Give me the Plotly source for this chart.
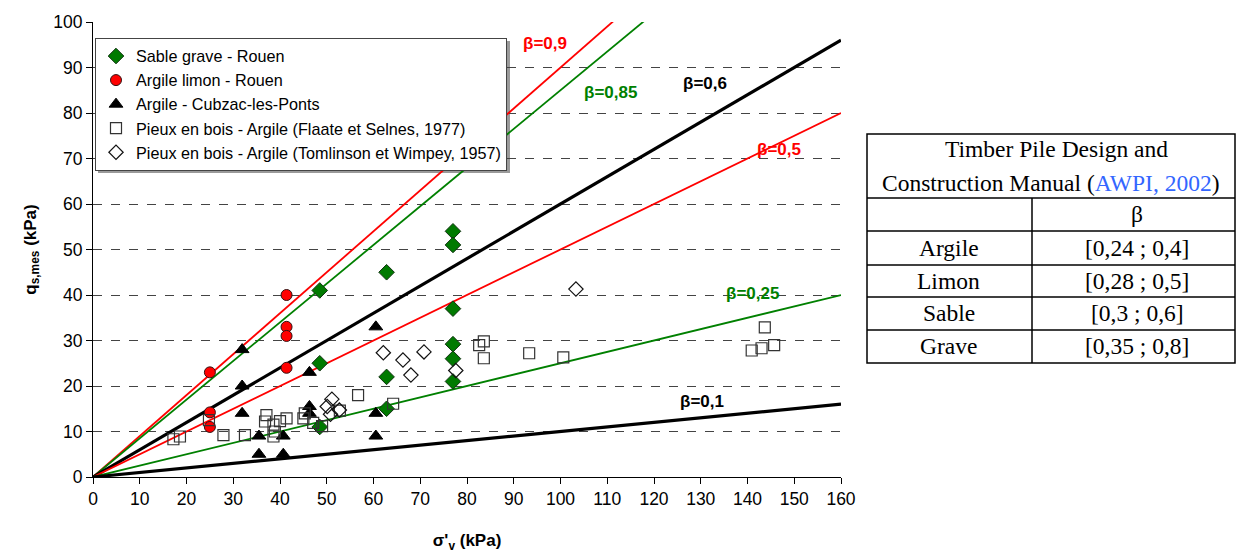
import plotly.graph_objects as go

# ---------------- data ----------------
sable_x = [48.5, 48.5, 48.5, 62.8, 62.8, 62.8, 77, 77, 77, 77, 77, 77]
sable_y = [41, 25, 11, 45, 22, 15, 54, 51, 37, 29.2, 26, 21]

limon_x = [25, 25, 25, 41.4, 41.4, 41.4, 41.4]
limon_y = [23, 14.2, 11, 40, 33, 31, 24]

cubzac_x = [31.9, 31.9, 31.9, 35.5, 35.5, 40.7, 40.7, 46.3, 46.3, 46.3, 60.5, 60.5, 60.5]
cubzac_y = [28, 20, 14, 9, 5, 9, 5, 23, 15.5, 14, 33, 14, 9]

flaate_x = [17.2, 18.6, 24.8, 27.9, 32.5, 36.8, 37.1, 38.6, 38.9, 38.6, 40, 41.4, 45, 45.3,
            47.1, 49, 52.8, 56.7, 64.2, 82.6, 83.6, 83.6, 93.3, 100.6, 140.9, 143, 143.7, 145.7]
flaate_y = [8.3, 8.9, 12.5, 9.2, 9.2, 12.2, 13.6, 11.5, 10, 8.9, 12.3, 12.9, 12.9, 14,
            11.9, 11.2, 14.6, 18, 16.1, 29, 29.8, 26.1, 27.2, 26.3, 27.8, 28.3, 32.9, 29]

tomlinson_x = [50.1, 50.8, 51.1, 52.7, 62.1, 66.3, 68, 70.8, 77.6, 103.3]
tomlinson_y = [15.5, 13.8, 17.1, 14.7, 27.3, 25.7, 22.4, 27.5, 23.4, 41.3]

beta_values = [0.9, 0.85, 0.6, 0.5, 0.25, 0.1]
beta_labels = ["β=0,9", "β=0,85", "β=0,6", "β=0,5", "β=0,25", "β=0,1"]
beta_label_x = [96.7, 110.6, 131, 146.7, 141, 130.3]
beta_label_y = [95.2, 84.6, 86.4, 72, 40.4, 16.7]
line_x_range = [0, 160]

table_title = ["Timber Pile Design and", "Construction Manual (", "AWPI, 2002", ")"]
table_soils = ["Argile", "Limon", "Sable", "Grave"]
table_beta = ["[0,24 ; 0,4]", "[0,28 ; 0,5]", "[0,3 ; 0,6]", "[0,35 ; 0,8]"]

# ---------------- styles ----------------
W, H = 1236, 553
L, R, T, B = 93, 841, 22, 477
beta_colors = ["#ff0000", "#008000", "#000000", "#ff0000", "#008000", "#000000"]
beta_widths = [1.8, 1.8, 3.2, 1.8, 1.8, 3.2]
SANS = "Liberation Sans, Arial, sans-serif"
SERIF = "Liberation Serif, Times New Roman, serif"


def px(xp):
    return (xp - L) / (R - L)


def py(yp):
    return (B - yp) / (B - T)


fig = go.Figure()

for b, c, w in zip(beta_values, beta_colors, beta_widths):
    fig.add_trace(go.Scatter(x=line_x_range, y=[b * v for v in line_x_range], mode="lines",
                             line=dict(color=c, width=w), showlegend=False, hoverinfo="skip"))

fig.add_trace(go.Scatter(x=sable_x, y=sable_y, mode="markers", name="Sable grave - Rouen",
                         marker=dict(symbol="diamond", size=12, color="#007a00",
                                     line=dict(color="#113311", width=1))))
fig.add_trace(go.Scatter(x=limon_x, y=limon_y, mode="markers", name="Argile limon - Rouen",
                         marker=dict(symbol="circle", size=11, color="#ff0000",
                                     line=dict(color="#331111", width=1))))
fig.add_trace(go.Scatter(x=cubzac_x, y=cubzac_y, mode="markers", name="Argile - Cubzac-les-Ponts",
                         marker=dict(symbol="triangle-up", size=12, color="#000000",
                                     line=dict(color="#000000", width=1))))
fig.add_trace(go.Scatter(x=flaate_x, y=flaate_y, mode="markers",
                         name="Pieux en bois - Argile (Flaate et Selnes, 1977)",
                         marker=dict(symbol="square-open", size=11, color="#333333",
                                     line=dict(width=1.2))))
fig.add_trace(go.Scatter(x=tomlinson_x, y=tomlinson_y, mode="markers",
                         name="Pieux en bois - Argile (Tomlinson et Wimpey, 1957)",
                         marker=dict(symbol="diamond-open", size=11, color="#111111",
                                     line=dict(width=1.2))))

for lab, lx, ly, c in zip(beta_labels, beta_label_x, beta_label_y, beta_colors):
    fig.add_annotation(x=lx, y=ly, text="<b>%s</b>" % lab, showarrow=False,
                       xanchor="center", yanchor="middle",
                       font=dict(family=SANS, size=17, color=c))

# table
shapes = []
shapes.append(dict(type="rect", xref="paper", yref="paper", x0=px(867), x1=px(1235),
                   y0=py(363), y1=py(134), line=dict(color="black", width=1.5)))
for yl in [198, 231, 265, 297, 330]:
    shapes.append(dict(type="line", xref="paper", yref="paper", x0=px(867), x1=px(1235),
                       y0=py(yl), y1=py(yl), line=dict(color="black", width=1.5)))
shapes.append(dict(type="line", xref="paper", yref="paper", x0=px(1032), x1=px(1032),
                   y0=py(198), y1=py(363), line=dict(color="black", width=1.5)))
# legend shadow
shapes.append(dict(type="rect", xref="paper", yref="paper", x0=px(98), x1=px(510),
                   y0=py(173), y1=py(41), fillcolor="#9a9a9a", line=dict(width=0), layer="below"))

tf = dict(family=SERIF, size=23.5, color="black")


def cell(xp, yp, text):
    fig.add_annotation(xref="paper", yref="paper", x=px(xp), y=py(yp), text=text,
                       xanchor="center", yanchor="middle", showarrow=False, font=tf)


cell(1056, 149, table_title[0])
cell(1051, 183, table_title[1] + "<span style='color:#3366ff'>" + table_title[2] + "</span>" + table_title[3])
cell(1137, 214, "β")
row_y = [248, 281, 313, 346]
for s, bv, ry in zip(table_soils, table_beta, row_y):
    cell(949, ry, s)
    cell(1137, ry, bv)

fig.update_layout(
    width=W, height=H,
    margin=dict(l=L, r=W - R, t=T, b=H - B, autoexpand=False),
    paper_bgcolor="white", plot_bgcolor="rgba(0,0,0,0)",
    font=dict(family=SANS, size=16, color="black"),
    shapes=shapes,
    showlegend=True,
    legend=dict(x=px(95), y=py(38), xanchor="left", yanchor="top",
                bgcolor="white", bordercolor="#444444", borderwidth=1,
                font=dict(family=SANS, size=16.2, color="black"),
                itemwidth=30, tracegroupgap=0),
    xaxis=dict(range=[0, 160], tickmode="linear", tick0=0, dtick=10, automargin=False,
               showgrid=False, zeroline=False, showline=True, linecolor="black", linewidth=1,
               ticks="outside", ticklen=6, tickcolor="black",
               tickfont=dict(size=17.5),
               title=dict(text="<b>σ'<sub>v</sub> (kPa)</b>", font=dict(size=17), standoff=28)),
    yaxis=dict(range=[0, 100], tickmode="linear", tick0=0, dtick=10, automargin=False,
               showgrid=True, gridcolor="#444444", griddash="dash", gridwidth=1,
               zeroline=False, showline=True, linecolor="black", linewidth=1,
               ticks="outside", ticklen=6, tickcolor="black",
               tickfont=dict(size=17.5),
               title=dict(text="<b>q<sub>s,mes</sub> (kPa)</b>", font=dict(size=17), standoff=12)),
)

fig.write_html("out.html", post_script="document.body.style.margin='0';",
               config={"displayModeBar": False})
